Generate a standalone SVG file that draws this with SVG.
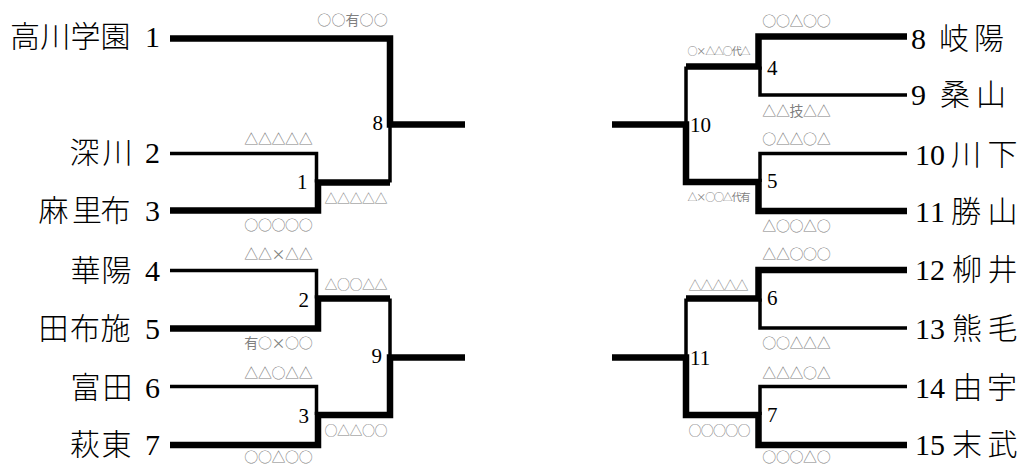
<svg xmlns="http://www.w3.org/2000/svg" width="1026" height="465" viewBox="0 0 1026 465">
<style>
.bg{fill:#fff}
.name{font-family:"Liberation Serif","Noto Sans CJK JP",serif;font-size:30px;font-weight:300;fill:#000}
.num{font-family:"Liberation Serif",serif;font-size:21px;fill:#000}
.sc{font-family:"Noto Sans CJK JP",sans-serif;font-size:14px;fill:#808080}
.s2{font-size:13px}
.s3{font-size:10px}
.thick{fill:none;stroke:#000;stroke-width:6.5;stroke-linejoin:miter;stroke-linecap:butt}
.thin{fill:none;stroke:#000;stroke-width:3.5;stroke-linejoin:miter;stroke-linecap:butt}
</style>
<rect class="bg" x="0" y="0" width="1026" height="465"/>
<g id="connectors">
<polyline class="thin" points="170,153.5 316.5,153.5 316.5,182.5"/>
<polyline class="thin" points="390,182.5 390,124.5"/>
<polyline class="thin" points="170,270.5 316.5,270.5 316.5,298.5"/>
<polyline class="thin" points="390,298.5 390,357.5"/>
<polyline class="thin" points="170,386.5 316.5,386.5 316.5,415"/>
<polyline class="thick" points="170,38.5 390,38.5 390,124.5 465,124.5"/>
<polyline class="thick" points="170,210.5 318,210.5 318,182.5 390,182.5"/>
<polyline class="thick" points="170,328.5 318,328.5 318,298.5 390,298.5"/>
<polyline class="thick" points="170,445 318,445 318,415 390,415 390,357.5 465,357.5"/>
<polyline class="thin" points="907,95 760,95 760,66.5"/>
<polyline class="thin" points="686,66.5 686,124.5"/>
<polyline class="thin" points="907,153.5 760,153.5 760,182"/>
<polyline class="thin" points="686,298.5 686,357.5"/>
<polyline class="thin" points="907,328 760,328 760,298.5"/>
<polyline class="thin" points="907,386.5 760,386.5 760,415"/>
<polyline class="thick" points="907,36.5 758.5,36.5 758.5,66.5 686,66.5"/>
<polyline class="thick" points="907,211 758.5,211 758.5,182 686,182 686,124.5 612,124.5"/>
<polyline class="thick" points="907,270 758.5,270 758.5,298.5 686,298.5"/>
<polyline class="thick" points="907,445 758.5,445 758.5,415 686,415 686,357.5 612,357.5"/>
</g>
<g id="scores">
<text class="sc" x="317.3" y="24.5" textLength="70.4" lengthAdjust="spacing">○○有○○</text>
<text class="sc" x="244.3" y="143.5" textLength="68.4" lengthAdjust="spacing">△△△△△</text>
<text class="sc" x="244.3" y="229.5" textLength="68.4" lengthAdjust="spacing">○○○○○</text>
<text class="sc" x="244.3" y="258.5" textLength="68.4" lengthAdjust="spacing">△△×△△</text>
<text class="sc" x="244.3" y="347.5" textLength="68.4" lengthAdjust="spacing">有○×○○</text>
<text class="sc" x="244.3" y="378" textLength="68.4" lengthAdjust="spacing">△△○△△</text>
<text class="sc" x="244.3" y="461.5" textLength="68.4" lengthAdjust="spacing">○○△○○</text>
<text class="sc s2" x="324.4" y="202.5" textLength="63.2" lengthAdjust="spacing">△△△△△</text>
<text class="sc s2" x="324.4" y="289" textLength="63.2" lengthAdjust="spacing">△○○△△</text>
<text class="sc s2" x="324.4" y="435" textLength="63.2" lengthAdjust="spacing">○△△○○</text>
<text class="sc" x="762.3" y="25.5" textLength="68.4" lengthAdjust="spacing">○○△○○</text>
<text class="sc" x="762.3" y="115.5" textLength="68.4" lengthAdjust="spacing">△△技△△</text>
<text class="sc" x="762.3" y="143.5" textLength="68.4" lengthAdjust="spacing">○△△○△</text>
<text class="sc" x="762.3" y="230.5" textLength="68.4" lengthAdjust="spacing">△○○△○</text>
<text class="sc" x="762.3" y="258.5" textLength="68.4" lengthAdjust="spacing">△△○○○</text>
<text class="sc" x="762.3" y="347.5" textLength="68.4" lengthAdjust="spacing">○○△△△</text>
<text class="sc" x="762.3" y="378" textLength="68.4" lengthAdjust="spacing">△△△○△</text>
<text class="sc" x="762.3" y="461.5" textLength="68.4" lengthAdjust="spacing">○○○△○</text>
<text class="sc s3" x="687.5" y="55.3" textLength="63" lengthAdjust="spacing">○×△△○代△</text>
<text class="sc s3" x="687.5" y="201.3" textLength="63" lengthAdjust="spacing">△×○○△代有</text>
<text class="sc s2" x="688.4" y="289.5" textLength="60.2" lengthAdjust="spacing">△△△△△</text>
<text class="sc s2" x="688.4" y="435" textLength="62.2" lengthAdjust="spacing">○○○○○</text>
</g>
<g id="team-1"><text class="name" x="10 40.2 70.4 100.6 131 145" y="47">高川学園 1</text></g>
<g id="team-2"><text class="name" x="69.5 102.5 133 145" y="163">深川 2</text></g>
<g id="team-3"><text class="name" x="38.5 72 100.5 131 145" y="220.5">麻里布 3</text></g>
<g id="team-4"><text class="name" x="70.5 101.5 133 145" y="281">華陽 4</text></g>
<g id="team-5"><text class="name" x="38.5 70 100.5 131 145" y="339">田布施 5</text></g>
<g id="team-6"><text class="name" x="70.5 102.5 133 145" y="397.5">富田 6</text></g>
<g id="team-7"><text class="name" x="70 101.5 133 145" y="454.5">萩東 7</text></g>
<g id="team-8"><text class="name" x="911 926 939 974" y="48.5">8 岐陽</text></g>
<g id="team-9"><text class="name" x="911 926 940 976" y="105">9 桑山</text></g>
<g id="team-10"><text class="name" x="915 930 945 951 987.5" y="164.5">10 川下</text></g>
<g id="team-11"><text class="name" x="915 930 945 951 987.5" y="221.5">11 勝山</text></g>
<g id="team-12"><text class="name" x="915 930 945 952 987.5" y="279.5">12 柳井</text></g>
<g id="team-13"><text class="name" x="915 930 945 952 987.5" y="339">13 熊毛</text></g>
<g id="team-14"><text class="name" x="915 930 945 952.5 987" y="397.5">14 由宇</text></g>
<g id="team-15"><text class="name" x="915 930 945 952 987.5" y="454.5">15 末武</text></g>
<g id="match-1"><text class="num" x="307.5" y="188.5" text-anchor="end">1</text></g>
<g id="match-2"><text class="num" x="309" y="307" text-anchor="end">2</text></g>
<g id="match-3"><text class="num" x="309" y="423" text-anchor="end">3</text></g>
<g id="match-8"><text class="num" x="383" y="130" text-anchor="end">8</text></g>
<g id="match-9"><text class="num" x="382" y="363" text-anchor="end">9</text></g>
<g id="match-4"><text class="num" x="767" y="75">4</text></g>
<g id="match-5"><text class="num" x="767" y="188">5</text></g>
<g id="match-6"><text class="num" x="767" y="305">6</text></g>
<g id="match-7"><text class="num" x="767" y="422">7</text></g>
<g id="match-10"><text class="num" x="690" y="131.5">10</text></g>
<g id="match-11"><text class="num" x="690" y="365">11</text></g>
</svg>
